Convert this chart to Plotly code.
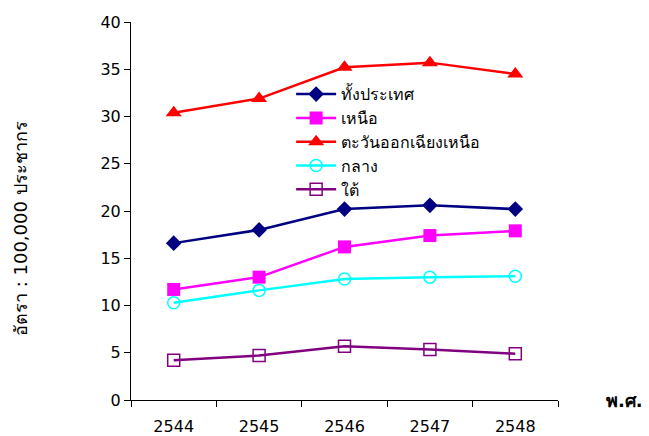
import plotly.graph_objects as go

years = ["2544", "2545", "2546", "2547", "2548"]

whole_country = [16.6, 18.0, 20.2, 20.6, 20.2]
north = [11.7, 13.0, 16.2, 17.4, 17.9]
northeast = [30.4, 31.9, 35.2, 35.7, 34.5]
central = [10.3, 11.6, 12.8, 13.0, 13.1]
south = [4.2, 4.7, 5.7, 5.35, 4.9]

series = [
    ("ทั้งประเทศ", whole_country, "#000080", dict(symbol="diamond", size=12, color="#000080")),
    ("เหนือ", north, "#FF00FF", dict(symbol="square", size=13, color="#FF00FF")),
    ("ตะวันออกเฉียงเหนือ", northeast, "#FF0000", dict(symbol="triangle-up", size=14, color="#FF0000")),
    ("กลาง", central, "#00FFFF", dict(symbol="circle-open", size=12, color="#00FFFF", line=dict(width=1.5))),
    ("ใต้", south, "#800080", dict(symbol="square-open", size=12, color="#800080", line=dict(width=1.5))),
]

font_family = "Tahoma, DejaVu Sans, Noto Sans, sans-serif"

fig = go.Figure()
for name, vals, color, marker in series:
    fig.add_trace(go.Scatter(
        x=years, y=vals, name=name, mode="lines+markers",
        line=dict(color=color, width=2.5), marker=marker,
    ))

fig.update_layout(
    width=649, height=436,
    margin=dict(l=131, r=91, t=22, b=36),
    paper_bgcolor="white", plot_bgcolor="white",
    font=dict(family=font_family, size=16, color="black"),
    showlegend=True,
    legend=dict(x=0.375, y=0.854, xanchor="left", yanchor="top",
                bgcolor="rgba(0,0,0,0)", font=dict(size=16),
                tracegroupgap=0, itemwidth=40),
    xaxis=dict(
        type="category", range=[-0.5, 4.5], showline=True, linecolor="black",
        linewidth=1, ticks="outside", tickson="boundaries", ticklen=6,
        tickcolor="black", showgrid=False, zeroline=False,
        ticklabelstandoff=12, automargin=False,
    ),
    yaxis=dict(
        range=[0, 40], dtick=5, showline=True, linecolor="black", linewidth=1,
        ticks="outside", ticklen=6, tickcolor="black", showgrid=False,
        zeroline=False, automargin=False,
    ),
    annotations=[
        dict(text="<b>พ.ศ.</b>", xref="paper", yref="paper", x=1.155, y=0,
             xanchor="center", yanchor="middle", showarrow=False, font=dict(size=18)),
        dict(text="อัตรา : 100,000 ประชากร", xref="paper", yref="paper",
             x=-0.26, y=0.455, textangle=-90, xanchor="center", yanchor="middle",
             showarrow=False, font=dict(size=18)),
    ],
)

fig.write_html("out.html")
